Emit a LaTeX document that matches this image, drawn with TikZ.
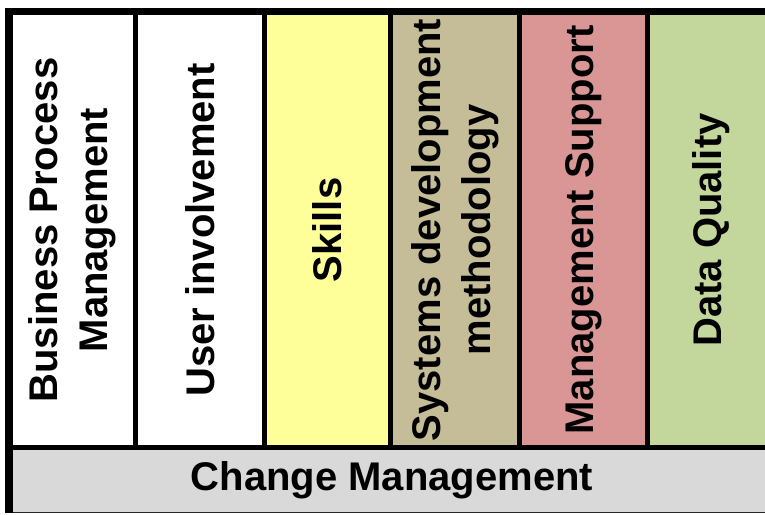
\documentclass[tikz,border=0pt]{standalone}
\usepackage{fontspec}
\setmainfont{Liberation Sans}
\definecolor{skillfill}{HTML}{FFFF99}
\definecolor{methodfill}{HTML}{C4BD97}
\definecolor{mgmtfill}{HTML}{D99694}
\definecolor{datafill}{HTML}{C3D69B}
\definecolor{changefill}{HTML}{D9D9D9}
\begin{document}
\begin{tikzpicture}[x=1pt,y=-1pt,
  lbl/.style={font=\bfseries\fontsize{40}{50}\selectfont, align=center, rotate=90, inner sep=0pt},
  heavy/.style={line width=7pt, line cap=rect},
  divider/.style={line width=5pt}]
\useasboundingbox (0,0) rectangle (765,514);
\fill[white] (0,0) rectangle (765,514);

% column backgrounds
\fill[skillfill]  (264,15) rectangle (390.5,447.5);
\fill[methodfill] (390.5,15) rectangle (519.5,447.5);
\fill[mgmtfill]   (519.5,15) rectangle (647.5,447.5);
\fill[datafill]   (647.5,15) rectangle (765,447.5);
\fill[changefill] (9,447.5) rectangle (765,513);

% column labels
\node[lbl] (bpm)    at (72,230)    {Business Process\\Management};
\node[lbl] (user)   at (200,230)   {User involvement};
\node[lbl] (skills) at (327,230)   {Skills};
\node[lbl] (sdm)    at (455,230)   {Systems development\\methodology};
\node[lbl] (ms)     at (583.5,230) {Management Support};
\node[lbl] (dq)     at (711,230)   {Data Quality};
\node[font=\bfseries\fontsize{40}{50}\selectfont, inner sep=0pt, anchor=base] (cm) at (392,490) {Change Management};

% grid lines
\draw[divider] (135.5,15) -- (135.5,447.5);
\draw[divider] (264,15) -- (264,447.5);
\draw[divider] (390.5,15) -- (390.5,447.5);
\draw[divider] (519.5,15) -- (519.5,447.5);
\draw[divider] (647.5,15) -- (647.5,447.5);
\draw[divider] (9,447.5) -- (765,447.5);
\draw[line width=1.2pt, black!85] (9,512.6) -- (765,512.6);
\draw[line width=7pt] (5,11.5) -- (765,11.5);
\draw[line width=8pt] (9,8) -- (9,513.2);
\end{tikzpicture}
\end{document}
